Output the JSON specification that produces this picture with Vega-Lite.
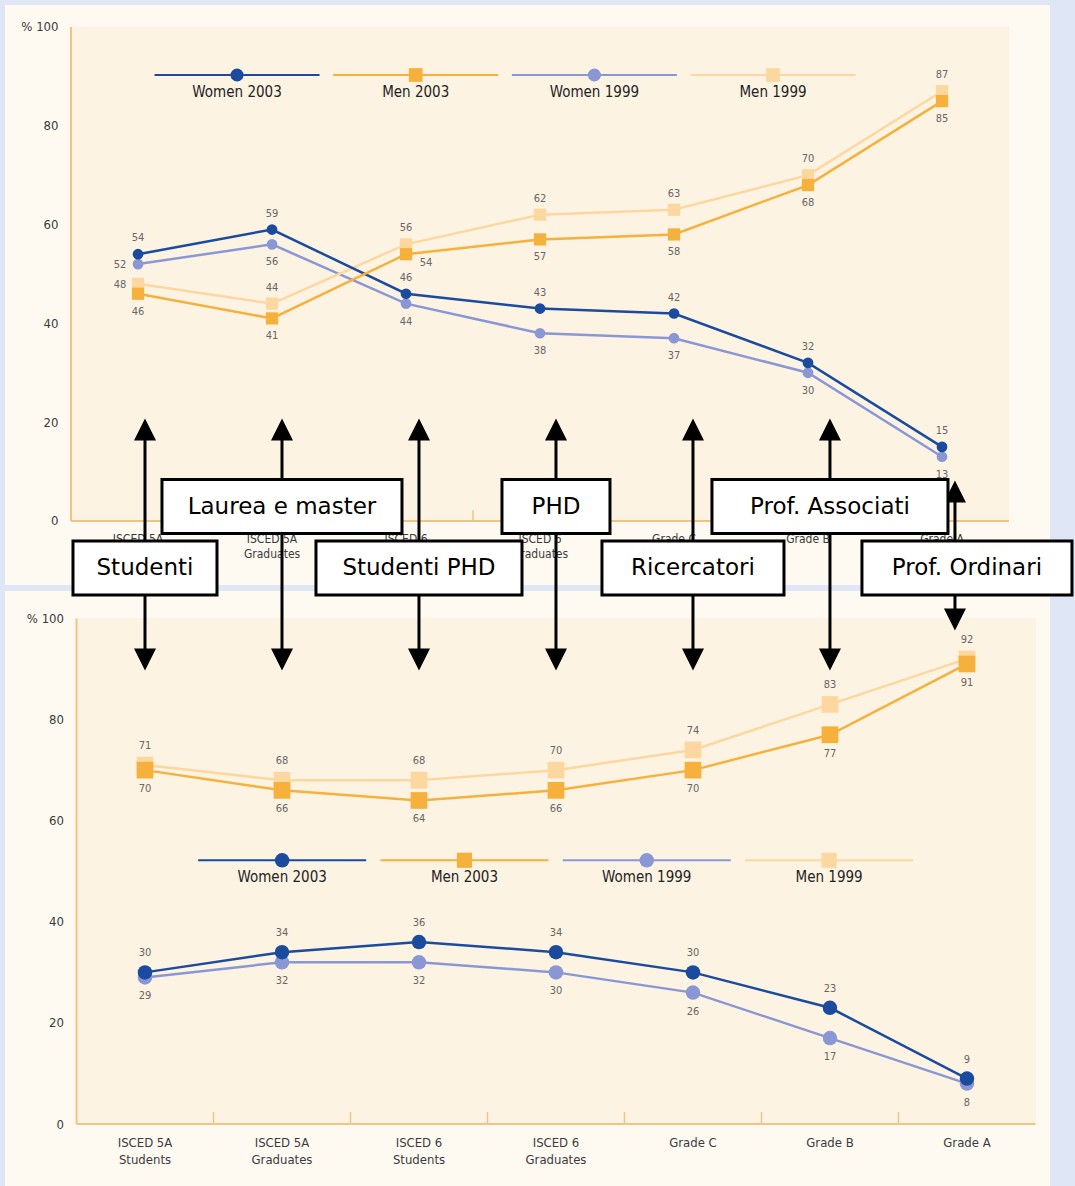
{
"$schema":"https://vega.github.io/schema/vega-lite/v6.json",
"background":"#dfe6f5",
"padding":{"left":5,"top":5,"right":2,"bottom":0},
"autosize":{"type":"pad"},
"bounds":"flush",
"spacing":6,
"config":{"view":{"fill":"#fefaf2","stroke":null},"font":"DejaVu Sans Condensed"},
"datasets":{
 "cats":[{"cat":"ISCED 5A Students"},{"cat":"ISCED 5A Graduates"},{"cat":"ISCED 6 Students"},{"cat":"ISCED 6 Graduates"},{"cat":"Grade C"},{"cat":"Grade B"},{"cat":"Grade A"}],
 "series":[{"series":"Women 2003"},{"series":"Men 2003"},{"series":"Women 1999"},{"series":"Men 1999"}],
 "top":[
  {"cat":"ISCED 5A Students","series":"Women 1999","value":52},{"cat":"ISCED 5A Graduates","series":"Women 1999","value":56},{"cat":"ISCED 6 Students","series":"Women 1999","value":44},{"cat":"ISCED 6 Graduates","series":"Women 1999","value":38},{"cat":"Grade C","series":"Women 1999","value":37},{"cat":"Grade B","series":"Women 1999","value":30},{"cat":"Grade A","series":"Women 1999","value":13},
  {"cat":"ISCED 5A Students","series":"Men 1999","value":48},{"cat":"ISCED 5A Graduates","series":"Men 1999","value":44},{"cat":"ISCED 6 Students","series":"Men 1999","value":56},{"cat":"ISCED 6 Graduates","series":"Men 1999","value":62},{"cat":"Grade C","series":"Men 1999","value":63},{"cat":"Grade B","series":"Men 1999","value":70},{"cat":"Grade A","series":"Men 1999","value":87},
  {"cat":"ISCED 5A Students","series":"Women 2003","value":54},{"cat":"ISCED 5A Graduates","series":"Women 2003","value":59},{"cat":"ISCED 6 Students","series":"Women 2003","value":46},{"cat":"ISCED 6 Graduates","series":"Women 2003","value":43},{"cat":"Grade C","series":"Women 2003","value":42},{"cat":"Grade B","series":"Women 2003","value":32},{"cat":"Grade A","series":"Women 2003","value":15},
  {"cat":"ISCED 5A Students","series":"Men 2003","value":46},{"cat":"ISCED 5A Graduates","series":"Men 2003","value":41},{"cat":"ISCED 6 Students","series":"Men 2003","value":54},{"cat":"ISCED 6 Graduates","series":"Men 2003","value":57},{"cat":"Grade C","series":"Men 2003","value":58},{"cat":"Grade B","series":"Men 2003","value":68},{"cat":"Grade A","series":"Men 2003","value":85}
 ],
 "bottom":[
  {"cat":"ISCED 5A Students","series":"Women 1999","value":29},{"cat":"ISCED 5A Graduates","series":"Women 1999","value":32},{"cat":"ISCED 6 Students","series":"Women 1999","value":32},{"cat":"ISCED 6 Graduates","series":"Women 1999","value":30},{"cat":"Grade C","series":"Women 1999","value":26},{"cat":"Grade B","series":"Women 1999","value":17},{"cat":"Grade A","series":"Women 1999","value":8},
  {"cat":"ISCED 5A Students","series":"Men 1999","value":71},{"cat":"ISCED 5A Graduates","series":"Men 1999","value":68},{"cat":"ISCED 6 Students","series":"Men 1999","value":68},{"cat":"ISCED 6 Graduates","series":"Men 1999","value":70},{"cat":"Grade C","series":"Men 1999","value":74},{"cat":"Grade B","series":"Men 1999","value":83},{"cat":"Grade A","series":"Men 1999","value":92},
  {"cat":"ISCED 5A Students","series":"Women 2003","value":30},{"cat":"ISCED 5A Graduates","series":"Women 2003","value":34},{"cat":"ISCED 6 Students","series":"Women 2003","value":36},{"cat":"ISCED 6 Graduates","series":"Women 2003","value":34},{"cat":"Grade C","series":"Women 2003","value":30},{"cat":"Grade B","series":"Women 2003","value":23},{"cat":"Grade A","series":"Women 2003","value":9},
  {"cat":"ISCED 5A Students","series":"Men 2003","value":70},{"cat":"ISCED 5A Graduates","series":"Men 2003","value":66},{"cat":"ISCED 6 Students","series":"Men 2003","value":64},{"cat":"ISCED 6 Graduates","series":"Men 2003","value":66},{"cat":"Grade C","series":"Men 2003","value":70},{"cat":"Grade B","series":"Men 2003","value":77},{"cat":"Grade A","series":"Men 2003","value":91}
 ],
 "notes":[
  {"note":"Studenti","cat":"ISCED 5A Students","level":"lower"},
  {"note":"Laurea e master","cat":"ISCED 5A Graduates","level":"upper"},
  {"note":"Studenti PHD","cat":"ISCED 6 Students","level":"lower"},
  {"note":"PHD","cat":"ISCED 6 Graduates","level":"upper"},
  {"note":"Ricercatori","cat":"Grade C","level":"lower"},
  {"note":"Prof. Associati","cat":"Grade B","level":"upper"},
  {"note":"Prof. Ordinari","cat":"Grade A","level":"lower"}
 ]
},
"vconcat":[
 {
  "width":1045,"height":580,
  "resolve":{"scale":{"x":"independent"}},
  "layer":[
   {
    "encoding":{"x":{"field":"cat","type":"nominal","sort":["ISCED 5A Students","ISCED 5A Graduates","ISCED 6 Students","ISCED 6 Graduates","Grade C","Grade B","Grade A"],
      "scale":{"type":"band","domain":["ISCED 5A Students","ISCED 5A Graduates","ISCED 6 Students","ISCED 6 Graduates","Grade C","Grade B","Grade A"],"paddingInner":0,"paddingOuter":0.3993,"align":0.617},
      "axis":{"title":null,"offset":-64,"ticks":false,"domain":false,"labelAngle":0,"labelPadding":12,"labelFontSize":12,"labelColor":"#3a3a3a","labelLineHeight":15,"labelOverlap":false,"labelExpr":"indexof(datum.label,'ISCED')==0 ? [slice(datum.label,0,lastindexof(datum.label,' ')), slice(datum.label,lastindexof(datum.label,' ')+1)] : datum.label"}}},
    "layer":[
     {"data":{"name":"cats"},"mark":{"type":"rect","fill":"#fdf3e3","stroke":"#fdf3e3","strokeWidth":1},
      "encoding":{"y":{"datum":0,"type":"quantitative","scale":{"domain":[-12.96,104.45],"nice":false,"zero":false},
        "axis":{"title":null,"values":[0,20,40,60,80,100],"labelExpr":"datum.value == 100 ? '% 100' : datum.label","offset":-65,"domain":false,"ticks":false,"grid":false,"labelPadding":12,"labelFontSize":13,"labelColor":"#3a3a3a"}},"y2":{"datum":100}}},
     {"data":{"name":"cats"},"transform":[{"filter":"datum.cat == 'ISCED 5A Students'"}],"mark":{"type":"rule","stroke":"#efc585","strokeWidth":2},
      "encoding":{"x":{"field":"cat","type":"nominal","bandPosition":0,"sort":["ISCED 5A Students","ISCED 5A Graduates","ISCED 6 Students","ISCED 6 Graduates","Grade C","Grade B","Grade A"]},"y":{"datum":0},"y2":{"datum":100}}},
     {"data":{"name":"cats"},"mark":{"type":"rect","fill":"#efc585"},"encoding":{"y":{"datum":-0.2},"y2":{"datum":0.2}}},
     {"data":{"name":"cats"},"transform":[{"filter":"datum.cat != 'ISCED 5A Students'"}],"mark":{"type":"rule","stroke":"#efc585","strokeWidth":1.5},
      "encoding":{"x":{"field":"cat","type":"nominal","bandPosition":0,"sort":["ISCED 5A Students","ISCED 5A Graduates","ISCED 6 Students","ISCED 6 Graduates","Grade C","Grade B","Grade A"]},"y":{"datum":0},"y2":{"datum":2.2}}},
     {"data":{"name":"top"},"mark":{"type":"line","strokeWidth":2.5},
      "encoding":{"y":{"field":"value","type":"quantitative"},"color":{"field":"series","type":"nominal","scale":{"domain":["Women 2003","Men 2003","Women 1999","Men 1999"],"range":["#1a4b9e","#f6b13d","#8a97d5","#fcd8a0"]},"legend":null}}},
     {"data":{"name":"top"},"transform":[{"filter":"indexof(datum.series,'Women')==0"}],"mark":{"type":"point","shape":"circle","filled":true,"size":115,"opacity":1},
      "encoding":{"y":{"field":"value","type":"quantitative"},"color":{"field":"series","type":"nominal","legend":null}}},
     {"data":{"name":"top"},"transform":[{"filter":"indexof(datum.series,'Men')==0"}],"mark":{"type":"point","shape":"square","filled":true,"size":150,"opacity":1},
      "encoding":{"y":{"field":"value","type":"quantitative"},"color":{"field":"series","type":"nominal","legend":null}}},
     {"data":{"name":"top"},"transform":[{"filter":"(datum.series == 'Women 2003' || datum.series == 'Men 1999') && !(datum.cat == 'ISCED 5A Students' && datum.series == 'Men 1999')"}],"mark":{"type":"text","dy":-16,"fontSize":11,"color":"#666666"},
      "encoding":{"y":{"field":"value","type":"quantitative"},"text":{"field":"value","type":"quantitative"}}},
     {"data":{"name":"top"},"transform":[{"filter":"(datum.series == 'Women 1999' || datum.series == 'Men 2003') && !(datum.cat == 'ISCED 5A Students' && datum.series == 'Women 1999') && !(datum.cat == 'ISCED 6 Students' && datum.series == 'Men 2003')"}],"mark":{"type":"text","dy":18,"fontSize":11,"color":"#666666"},
      "encoding":{"y":{"field":"value","type":"quantitative"},"text":{"field":"value","type":"quantitative"}}},
     {"data":{"name":"top"},"transform":[{"filter":"datum.cat == 'ISCED 5A Students' && (datum.series == 'Women 1999' || datum.series == 'Men 1999')"}],"mark":{"type":"text","dx":-18,"dy":1,"fontSize":11,"color":"#666666"},
      "encoding":{"y":{"field":"value","type":"quantitative"},"text":{"field":"value","type":"quantitative"}}},
     {"data":{"name":"top"},"transform":[{"filter":"datum.cat == 'ISCED 6 Students' && datum.series == 'Men 2003'"}],"mark":{"type":"text","dx":20,"dy":9,"fontSize":11,"color":"#666666"},
      "encoding":{"y":{"field":"value","type":"quantitative"},"text":{"field":"value","type":"quantitative"}}}
    ]
   },
   {
    "data":{"name":"series"},
    "encoding":{"x":{"field":"series","type":"nominal","sort":["Women 2003","Men 2003","Women 1999","Men 1999"],"scale":{"type":"band","domain":["Women 2003","Men 2003","Women 1999","Men 1999"],"paddingInner":0,"paddingOuter":0.9245,"align":0.432},"axis":null},
      "color":{"field":"series","type":"nominal","legend":null}},
    "layer":[
     {"mark":{"type":"tick","orient":"horizontal","size":165,"thickness":2,"opacity":1},"encoding":{"y":{"datum":90.28}}},
     {"transform":[{"filter":"indexof(datum.series,'Women')==0"}],"mark":{"type":"point","shape":"circle","filled":true,"size":170,"opacity":1},"encoding":{"y":{"datum":90.28}}},
     {"transform":[{"filter":"indexof(datum.series,'Men')==0"}],"mark":{"type":"point","shape":"square","filled":true,"size":190,"opacity":1},"encoding":{"y":{"datum":90.28}}},
     {"mark":{"type":"text","dy":17,"fontSize":15},"encoding":{"y":{"datum":90.28},"text":{"field":"series"},"color":{"value":"#222222"}}}
    ]
   }
  ]
 },
 {
  "width":1045,"height":595,
  "resolve":{"scale":{"x":"independent"}},
  "layer":[
   {
    "encoding":{"x":{"field":"cat","type":"nominal","sort":["ISCED 5A Students","ISCED 5A Graduates","ISCED 6 Students","ISCED 6 Graduates","Grade C","Grade B","Grade A"],
      "scale":{"type":"band","domain":["ISCED 5A Students","ISCED 5A Graduates","ISCED 6 Students","ISCED 6 Graduates","Grade C","Grade B","Grade A"],"paddingInner":0,"paddingOuter":0.314,"align":0.831},
      "axis":{"title":null,"offset":-62,"ticks":false,"domain":false,"labelAngle":0,"labelPadding":12,"labelFontSize":13,"labelColor":"#3a3a3a","labelLineHeight":17,"labelOverlap":false,"labelExpr":"indexof(datum.label,'ISCED')==0 ? [slice(datum.label,0,lastindexof(datum.label,' ')), slice(datum.label,lastindexof(datum.label,' ')+1)] : datum.label"}}},
    "layer":[
     {"data":{"name":"cats"},"mark":{"type":"rect","fill":"#fdf3e3","stroke":"#fdf3e3","strokeWidth":1},
      "encoding":{"y":{"datum":0,"type":"quantitative","scale":{"domain":[-12.25,105.43],"nice":false,"zero":false},
        "axis":{"title":null,"values":[0,20,40,60,80,100],"labelExpr":"datum.value == 100 ? '% 100' : datum.label","offset":-71.5,"domain":false,"ticks":false,"grid":false,"labelPadding":13,"labelFontSize":13,"labelColor":"#3a3a3a"}},"y2":{"datum":100}}},
     {"data":{"name":"cats"},"transform":[{"filter":"datum.cat == 'ISCED 5A Students'"}],"mark":{"type":"rule","stroke":"#efc585","strokeWidth":2},
      "encoding":{"x":{"field":"cat","type":"nominal","bandPosition":0,"sort":["ISCED 5A Students","ISCED 5A Graduates","ISCED 6 Students","ISCED 6 Graduates","Grade C","Grade B","Grade A"]},"y":{"datum":0},"y2":{"datum":100}}},
     {"data":{"name":"cats"},"mark":{"type":"rect","fill":"#efc585"},"encoding":{"y":{"datum":-0.2},"y2":{"datum":0.2}}},
     {"data":{"name":"cats"},"transform":[{"filter":"datum.cat != 'ISCED 5A Students'"}],"mark":{"type":"rule","stroke":"#efc585","strokeWidth":1.5},
      "encoding":{"x":{"field":"cat","type":"nominal","bandPosition":0,"sort":["ISCED 5A Students","ISCED 5A Graduates","ISCED 6 Students","ISCED 6 Graduates","Grade C","Grade B","Grade A"]},"y":{"datum":0},"y2":{"datum":2.4}}},
     {"data":{"name":"bottom"},"mark":{"type":"line","strokeWidth":2.5},
      "encoding":{"y":{"field":"value","type":"quantitative"},"color":{"field":"series","type":"nominal","scale":{"domain":["Women 2003","Men 2003","Women 1999","Men 1999"],"range":["#1a4b9e","#f6b13d","#8a97d5","#fcd8a0"]},"legend":null}}},
     {"data":{"name":"bottom"},"transform":[{"filter":"indexof(datum.series,'Women')==0"}],"mark":{"type":"point","shape":"circle","filled":true,"size":210,"opacity":1},
      "encoding":{"y":{"field":"value","type":"quantitative"},"color":{"field":"series","type":"nominal","legend":null}}},
     {"data":{"name":"bottom"},"transform":[{"filter":"indexof(datum.series,'Men')==0"}],"mark":{"type":"point","shape":"square","filled":true,"size":280,"opacity":1},
      "encoding":{"y":{"field":"value","type":"quantitative"},"color":{"field":"series","type":"nominal","legend":null}}},
     {"data":{"name":"bottom"},"transform":[{"filter":"datum.series == 'Women 2003' || datum.series == 'Men 1999'"}],"mark":{"type":"text","dy":-19,"fontSize":11,"color":"#666666"},
      "encoding":{"y":{"field":"value","type":"quantitative"},"text":{"field":"value","type":"quantitative"}}},
     {"data":{"name":"bottom"},"transform":[{"filter":"datum.series == 'Women 1999' || datum.series == 'Men 2003'"}],"mark":{"type":"text","dy":19,"fontSize":11,"color":"#666666"},
      "encoding":{"y":{"field":"value","type":"quantitative"},"text":{"field":"value","type":"quantitative"}}},
     {"data":{"name":"notes"},"transform":[{"filter":"datum.note != 'Prof. Ordinari'"}],
      "layer":[
       {"mark":{"type":"rule","stroke":"black","strokeWidth":3},"encoding":{"y":{"datum":137.35},"y2":{"datum":91.9}}},
       {"mark":{"type":"point","shape":"M0,-1L1,1L-1,1Z","size":484,"filled":true,"color":"black","opacity":1},"encoding":{"y":{"datum":137.35}}},
       {"mark":{"type":"point","shape":"M0,1L1,-1L-1,-1Z","size":484,"filled":true,"color":"black","opacity":1},"encoding":{"y":{"datum":91.9}}}
      ]},
     {"data":{"name":"notes"},"transform":[{"filter":"datum.note == 'Prof. Ordinari'"}],
      "layer":[
       {"mark":{"type":"rule","stroke":"black","strokeWidth":3,"xOffset":-12},"encoding":{"y":{"datum":125.1},"y2":{"datum":99.8}}},
       {"mark":{"type":"point","shape":"M0,-1L1,1L-1,1Z","size":484,"filled":true,"color":"black","opacity":1,"xOffset":-12},"encoding":{"y":{"datum":125.1}}},
       {"mark":{"type":"point","shape":"M0,1L1,-1L-1,-1Z","size":484,"filled":true,"color":"black","opacity":1,"xOffset":-12},"encoding":{"y":{"datum":99.8}}}
      ]},
     {"data":{"name":"notes"},"transform":[{"filter":"datum.level == 'upper'"}],
      "layer":[
       {"mark":{"type":"point","size":4,"filled":true,"fill":"white","stroke":"black","strokeWidth":3,"opacity":1},
        "encoding":{"y":{"datum":122.13},"shape":{"field":"note","type":"nominal","scale":{"domain":["Studenti","Laurea e master","Studenti PHD","PHD","Ricercatori","Prof. Associati","Prof. Ordinari"],"range":["M-72,-27L72,-27L72,27L-72,27Z","M-120,-27L120,-27L120,27L-120,27Z","M-103,-27L103,-27L103,27L-103,27Z","M-54,-27L54,-27L54,27L-54,27Z","M-91,-27L91,-27L91,27L-91,27Z","M-118,-27L118,-27L118,27L-118,27Z","M-105,-27L105,-27L105,27L-105,27Z"]},"legend":null}}},
       {"mark":{"type":"text","font":"DejaVu Sans","fontSize":23,"color":"black","baseline":"middle"},"encoding":{"y":{"datum":122.13},"text":{"field":"note"}}}
      ]},
     {"data":{"name":"notes"},"transform":[{"filter":"datum.level == 'lower'"}],
      "layer":[
       {"mark":{"type":"point","size":4,"filled":true,"fill":"white","stroke":"black","strokeWidth":3,"opacity":1},
        "encoding":{"y":{"datum":109.98},"shape":{"field":"note","type":"nominal","legend":null}}},
       {"mark":{"type":"text","font":"DejaVu Sans","fontSize":23,"color":"black","baseline":"middle"},"encoding":{"y":{"datum":109.98},"text":{"field":"note"}}}
      ]}
    ]
   },
   {
    "data":{"name":"series"},
    "encoding":{"x":{"field":"series","type":"nominal","sort":["Women 2003","Men 2003","Women 1999","Men 1999"],"scale":{"type":"band","domain":["Women 2003","Men 2003","Women 1999","Men 1999"],"paddingInner":0,"paddingOuter":0.866,"align":0.589},"axis":null},
      "color":{"field":"series","type":"nominal","legend":null}},
    "layer":[
     {"mark":{"type":"tick","orient":"horizontal","size":168,"thickness":2,"opacity":1},"encoding":{"y":{"datum":52.17}}},
     {"transform":[{"filter":"indexof(datum.series,'Women')==0"}],"mark":{"type":"point","shape":"circle","filled":true,"size":210,"opacity":1},"encoding":{"y":{"datum":52.17}}},
     {"transform":[{"filter":"indexof(datum.series,'Men')==0"}],"mark":{"type":"point","shape":"square","filled":true,"size":230,"opacity":1},"encoding":{"y":{"datum":52.17}}},
     {"mark":{"type":"text","dy":17,"fontSize":15},"encoding":{"y":{"datum":52.17},"text":{"field":"series"},"color":{"value":"#222222"}}}
    ]
   }
  ]
 }
]
}
